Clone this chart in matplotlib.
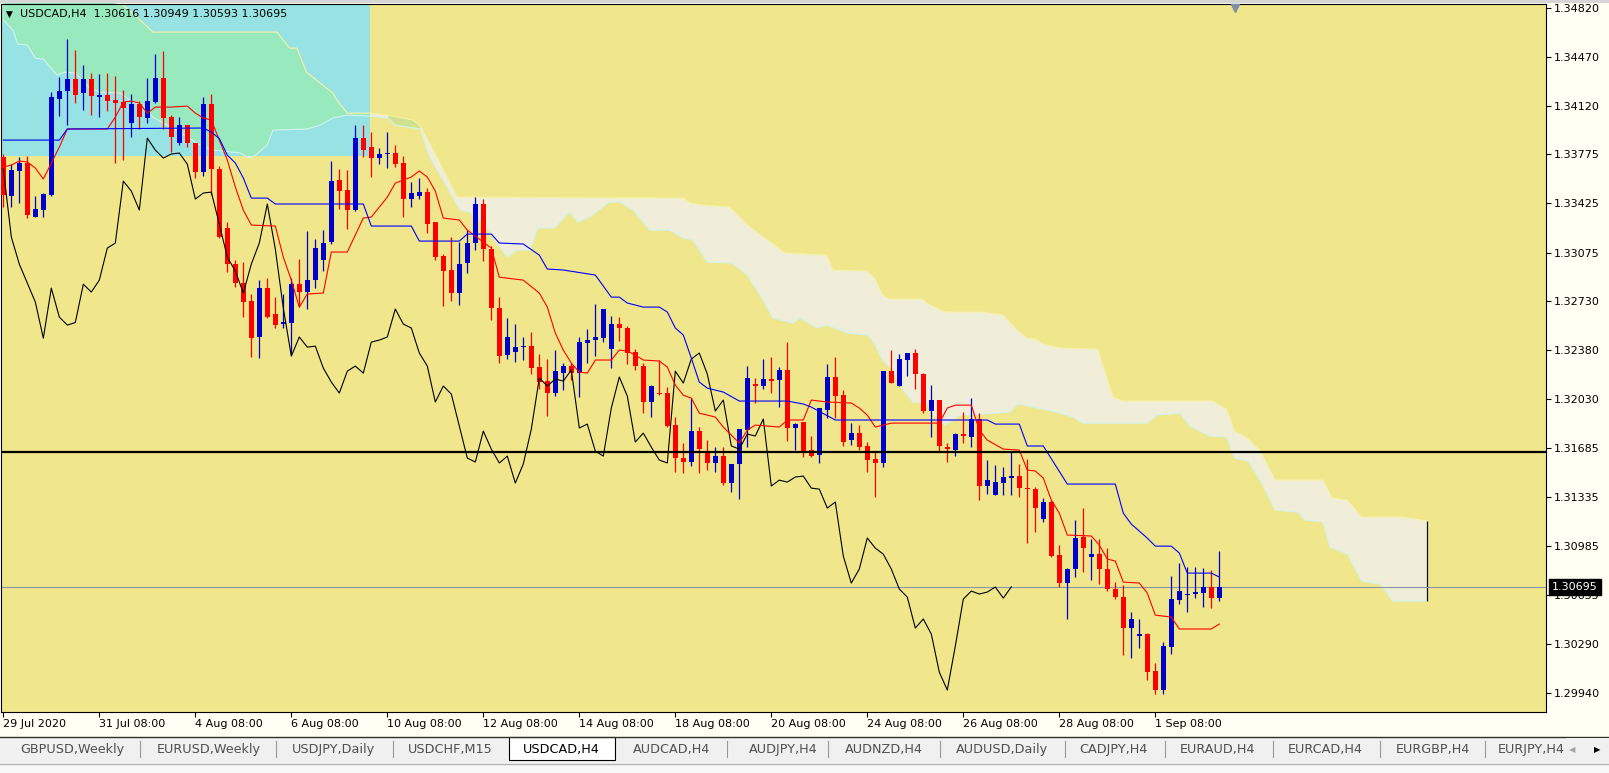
import numpy as np
import matplotlib
matplotlib.use("Agg")
import matplotlib.pyplot as plt
from matplotlib.patches import Polygon, Rectangle
from matplotlib.lines import Line2D
from matplotlib.transforms import Affine2D, blended_transform_factory

W, H = 1609, 773

# USDCAD H4 candles, oldest first (bar 0 = 29 Jul 08:00)
opens = [1.33755, 1.33478, 1.33656, 1.33712, 1.33328, 1.33378, 1.33485, 1.34168, 1.34225, 1.34311,
         1.34211, 1.34311, 1.34186, 1.34197, 1.34161, 1.34147, 1.33997, 1.34133, 1.34033, 1.34147,
         1.34318, 1.3404, 1.33855, 1.33983, 1.33855, 1.33648, 1.34133, 1.3367, 1.3325, 1.32993,
         1.32858, 1.3273, 1.32474, 1.32822, 1.32637, 1.3257, 1.32573, 1.3285, 1.32794, 1.32879,
         1.33022, 1.3315, 1.33591, 1.3352, 1.33378, 1.3389, 1.33826, 1.33748, 1.33777, 1.33784,
         1.33712, 1.33456, 1.33478, 1.33506, 1.33292, 1.3305, 1.32951, 1.32787, 1.33, 1.33143,
         1.33421, 1.331, 1.3268, 1.32345, 1.32367, 1.32402, 1.32409, 1.3226, 1.3216, 1.32075,
         1.32217, 1.32267, 1.32217, 1.32431, 1.32452, 1.32466, 1.32388, 1.32566, 1.32538, 1.32367,
         1.32267, 1.32011, 1.32075, 1.32075, 1.31847, 1.31612, 1.31584, 1.31804, 1.31655, 1.31577,
         1.31626, 1.31434, 1.3157, 1.31811, 1.32139, 1.32125, 1.32175, 1.32167, 1.32239, 1.31826,
         1.31868, 1.31669, 1.31633, 1.31954, 1.32189, 1.3206, 1.3174, 1.3179, 1.31698, 1.31605,
         1.31577, 1.32231, 1.32125, 1.3231, 1.3236, 1.3221, 1.31947, 1.32025, 1.3169, 1.31669,
         1.31783, 1.31762, 1.3189, 1.31413, 1.31349, 1.31434, 1.3147, 1.31484, 1.31398, 1.31391,
         1.31178, 1.31299, 1.30921, 1.30722, 1.30822, 1.3105, 1.30907, 1.30928, 1.30822, 1.3068,
         1.30622, 1.30402, 1.30345, 1.30359, 1.30095, 1.2996, 1.30266, 1.30601, 1.30637, 1.30644,
         1.30651, 1.30694, 1.30616]
highs = [1.33777, 1.33705, 1.33755, 1.33762, 1.33478, 1.33499, 1.34218, 1.34325, 1.34595, 1.34517,
         1.3441, 1.34353, 1.34346, 1.34353, 1.34332, 1.34232, 1.34204, 1.34154, 1.34318, 1.34489,
         1.3451, 1.34054, 1.3404, 1.33983, 1.33855, 1.34182, 1.34204, 1.33691, 1.33292, 1.33022,
         1.33008, 1.3278, 1.32879, 1.32894, 1.32758, 1.3278, 1.32894, 1.33029, 1.33228, 1.33171,
         1.33235, 1.33727, 1.3367, 1.33663, 1.33983, 1.33983, 1.33933, 1.33819, 1.33933, 1.33841,
         1.33762, 1.33577, 1.33606, 1.33534, 1.33292, 1.33065, 1.33186, 1.3315, 1.33235, 1.3347,
         1.33456, 1.33122, 1.32758, 1.32609, 1.32566, 1.32474, 1.32509, 1.32352, 1.32317, 1.32381,
         1.32288, 1.32288, 1.32474, 1.32531, 1.32709, 1.32673, 1.32623, 1.32616, 1.32552, 1.32388,
         1.32288, 1.32132, 1.3231, 1.32118, 1.31904, 1.31719, 1.32039, 1.31833, 1.3174, 1.3169,
         1.3169, 1.3157, 1.31818, 1.32267, 1.32182, 1.32317, 1.32331, 1.3226, 1.32438, 1.31861,
         1.31868, 1.31769, 1.31968, 1.32281, 1.32331, 1.32096, 1.31861, 1.31847, 1.31726, 1.31655,
         1.32231, 1.32381, 1.32352, 1.3236, 1.32388, 1.32217, 1.32132, 1.32025, 1.31719, 1.3179,
         1.31939, 1.32039, 1.31932, 1.31598, 1.31562, 1.31548, 1.31655, 1.3157, 1.31605, 1.31406,
         1.31327, 1.31313, 1.30993, 1.30829, 1.31171, 1.31256, 1.31035, 1.31035, 1.30971, 1.30729,
         1.30708, 1.30516, 1.30466, 1.30366, 1.30152, 1.30302, 1.30772, 1.30864, 1.30836, 1.30836,
         1.30829, 1.30815, 1.30949]
lows = [1.33399, 1.33399, 1.33428, 1.33321, 1.33325, 1.33328, 1.33478, 1.34047, 1.33983, 1.3414,
        1.3409, 1.34054, 1.3404, 1.34083, 1.33712, 1.33734, 1.33898, 1.33955, 1.33997, 1.3414,
        1.33955, 1.33791, 1.33841, 1.33826, 1.33606, 1.3362, 1.33485, 1.33178, 1.32936, 1.3283,
        1.32616, 1.32331, 1.32324, 1.32609, 1.32538, 1.32538, 1.32345, 1.32687, 1.32673, 1.32822,
        1.32944, 1.33136, 1.33385, 1.33243, 1.33371, 1.33755, 1.33613, 1.33705, 1.33677, 1.33684,
        1.33328, 1.33399, 1.33456, 1.33214, 1.33022, 1.32694, 1.3273, 1.32701, 1.32929, 1.33093,
        1.33015, 1.32595, 1.32288, 1.32317, 1.32296, 1.3231, 1.3221, 1.32103, 1.31911, 1.32053,
        1.32096, 1.32167, 1.32046, 1.32288, 1.32338, 1.32438, 1.32253, 1.32445, 1.32281, 1.32239,
        1.31932, 1.31904, 1.3206, 1.31833, 1.31512, 1.31505, 1.31555, 1.31505, 1.31527, 1.31512,
        1.3142, 1.3137, 1.3132, 1.3169, 1.32004, 1.32103, 1.32075, 1.31975, 1.31733, 1.31669,
        1.31619, 1.31619, 1.31577, 1.31897, 1.31897, 1.31698, 1.31705, 1.31669, 1.31512, 1.31334,
        1.31548, 1.32146, 1.32125, 1.32196, 1.32103, 1.31932, 1.31762, 1.31662, 1.31584, 1.31626,
        1.31719, 1.3169, 1.31313, 1.31356, 1.31349, 1.31349, 1.31349, 1.31334, 1.31007, 1.31085,
        1.31157, 1.30907, 1.30694, 1.30466, 1.30765, 1.308, 1.30743, 1.30715, 1.30665, 1.30608,
        1.30209, 1.30188, 1.30259, 1.30031, 1.29932, 1.29932, 1.30216, 1.30573, 1.30516, 1.30615,
        1.30551, 1.30544, 1.30593]
closes = [1.33485, 1.33663, 1.33712, 1.33342, 1.33385, 1.33492, 1.34182, 1.34225, 1.34311, 1.34197,
          1.34311, 1.34189, 1.34193, 1.34154, 1.3414, 1.34104, 1.34133, 1.3404, 1.34154, 1.34318,
          1.34033, 1.33898, 1.33983, 1.33855, 1.33648, 1.34133, 1.3367, 1.33186, 1.32993, 1.32858,
          1.32723, 1.32466, 1.32822, 1.32616, 1.32559, 1.32577, 1.3285, 1.32794, 1.32879, 1.33107,
          1.33143, 1.33584, 1.33513, 1.33378, 1.3389, 1.33805, 1.33748, 1.33777, 1.33784, 1.33705,
          1.33456, 1.33499, 1.33506, 1.33278, 1.33043, 1.32944, 1.32787, 1.32993, 1.33143, 1.33421,
          1.331, 1.3268, 1.32338, 1.32474, 1.32402, 1.32409, 1.32253, 1.32153, 1.32075, 1.32231,
          1.32267, 1.32217, 1.32438, 1.32452, 1.32474, 1.32673, 1.32566, 1.32538, 1.3236, 1.32267,
          1.32011, 1.32125, 1.32068, 1.3184, 1.31612, 1.31584, 1.31804, 1.31676, 1.31577, 1.31626,
          1.31434, 1.3157, 1.31818, 1.32182, 1.32125, 1.32175, 1.3216, 1.32239, 1.31826, 1.31854,
          1.31662, 1.31626, 1.31968, 1.32189, 1.32053, 1.31726, 1.3179, 1.3169, 1.31598, 1.31577,
          1.32231, 1.32146, 1.32317, 1.3236, 1.3221, 1.31947, 1.32025, 1.31698, 1.31676, 1.31783,
          1.31769, 1.3189, 1.31413, 1.31455, 1.31441, 1.31477, 1.31484, 1.31398, 1.31391, 1.31256,
          1.31299, 1.30914, 1.30722, 1.30822, 1.31043, 1.30971, 1.30928, 1.30822, 1.3068, 1.30622,
          1.30402, 1.30466, 1.30359, 1.30088, 1.2996, 1.30273, 1.30608, 1.30665, 1.30644, 1.30658,
          1.30694, 1.30615, 1.30695]

# Ichimoku lines (bar index, price)
tenkan_bars = [0, 1, 2, 3, 4, 5, 6, 7, 8, 13, 14, 15, 16, 17, 18, 19, 21, 23, 24, 25,
               26, 27, 28, 29, 30, 31, 34, 35, 36, 37, 38, 40, 41, 43, 44, 45, 46, 47, 48, 49,
               51, 52, 53, 54, 55, 57, 58, 61, 62, 65, 67, 68, 69, 70, 71, 72, 73, 74, 76, 77,
               78, 79, 80, 82, 83, 84, 85, 86, 87, 89, 90, 92, 93, 94, 97, 98, 100, 101, 103, 106,
               107, 108, 109, 111, 117, 118, 119, 121, 122, 123, 125, 127, 128, 129, 130, 131, 132, 133, 136, 137,
               138, 139, 140, 142, 143, 144, 146, 147, 151, 152]
tenkan_vals = [1.33684, 1.33698, 1.33727, 1.3372, 1.33677, 1.33599, 1.33712, 1.33826, 1.33955, 1.33955,
               1.3404, 1.34147, 1.34154, 1.3414, 1.34068, 1.34111, 1.34111, 1.34118, 1.34068, 1.34033,
               1.34019, 1.33876, 1.33734, 1.33542, 1.33378, 1.33271, 1.33264, 1.33043, 1.32879, 1.32687,
               1.3278, 1.32787, 1.33079, 1.33079, 1.332, 1.33321, 1.33328, 1.33399, 1.3347, 1.3357,
               1.33613, 1.33656, 1.33613, 1.33513, 1.33321, 1.33307, 1.33235, 1.33107, 1.329, 1.32879,
               1.32787, 1.32687, 1.32502, 1.32381, 1.32288, 1.32224, 1.32217, 1.3231, 1.3231, 1.32381,
               1.32374, 1.32345, 1.3231, 1.32303, 1.3226, 1.32132, 1.3206, 1.32039, 1.31932, 1.31904,
               1.31833, 1.31719, 1.31811, 1.31847, 1.31833, 1.31883, 1.31883, 1.32025, 1.32011, 1.32004,
               1.31968, 1.31918, 1.31833, 1.31861, 1.31861, 1.31968, 1.31989, 1.31989, 1.31811, 1.3174,
               1.31676, 1.31669, 1.31527, 1.3152, 1.3147, 1.31313, 1.3122, 1.31064, 1.31057, 1.30993,
               1.30893, 1.30879, 1.30729, 1.30722, 1.30651, 1.30494, 1.3048, 1.30395, 1.30395, 1.3043]
kijun_bars = [0, 7, 8, 25, 26, 27, 28, 29, 30, 31, 33, 34, 45, 46, 51, 52, 57, 58, 61, 62,
              65, 67, 68, 70, 74, 76, 77, 78, 80, 82, 83, 84, 85, 86, 87, 88, 90, 92, 98, 100,
              101, 104, 123, 124, 127, 128, 130, 133, 139, 140, 141, 143, 144, 146, 147, 148, 151, 152]
kijun_vals = [1.33876, 1.33876, 1.33955, 1.33962, 1.33933, 1.33887, 1.33769, 1.33713, 1.33606, 1.33463,
              1.33463, 1.33421, 1.33421, 1.33264, 1.33264, 1.33157, 1.33157, 1.33207, 1.33207, 1.33143,
              1.33136, 1.33057, 1.32958, 1.32951, 1.32915, 1.32758, 1.32758, 1.32716, 1.32687, 1.32687,
              1.32652, 1.32538, 1.32488, 1.32324, 1.32153, 1.3211, 1.32082, 1.32018, 1.32018, 1.31997,
              1.31975, 1.31883, 1.31883, 1.31854, 1.31854, 1.31698, 1.31698, 1.31427, 1.31427, 1.3122,
              1.31142, 1.31042, 1.30985, 1.30985, 1.30936, 1.30793, 1.30793, 1.30765]
chikou_shift = 26

# Kumo edges (bar, price)
cloud_top_bars = [0, 15.0, 17.1, 18.7, 34.2, 35.8, 36.7, 37.9, 39.6, 41.2, 41.7, 43.0, 45.8, 48.1,
                  51.2, 52.1, 53.7, 55.0, 56.7, 85.0, 85.8, 87.5, 90.8, 93.3, 97.7, 102.9, 103.7,
                  107.9, 108.9, 109.9, 110.8, 114.8, 115.8, 117.7, 122.3, 125.0, 126.7, 128.0,
                  129.0, 130.0, 132.1, 136.8, 138.7, 139.9, 151.1, 152.9, 153.9, 155.5, 157.1,
                  159.0, 165.0, 166.1, 168.0, 169.8, 174.9, 178]
cloud_top_vals = [1.35015, 1.34837, 1.34731, 1.34645, 1.34645, 1.34531, 1.34531, 1.3436, 1.34282,
                  1.34211, 1.34161, 1.34068, 1.34068, 1.34054, 1.34019, 1.33976, 1.33805, 1.33663,
                  1.3347, 1.33463, 1.33428, 1.33413, 1.33399, 1.33257, 1.33072, 1.33057, 1.32951,
                  1.32944, 1.32894, 1.32773, 1.32744, 1.32744, 1.32701, 1.32652, 1.32652, 1.3263,
                  1.32523, 1.32466, 1.32459, 1.32424, 1.32395, 1.32388, 1.32046, 1.32018, 1.32018,
                  1.31961, 1.31804, 1.31755, 1.31662, 1.31455, 1.31455, 1.31327, 1.31313, 1.31192,
                  1.31192, 1.31164]
cloud_bot_bars = [0, 1.2, 1.8, 3.0, 4.0, 5.0, 6.7, 7.7, 9.0, 10.8, 12.1, 14.6, 15.8, 17.1, 18.7,
                  20.0, 21.7, 23.0, 24.6, 26.2, 29.6, 30.8, 31.5, 33.0, 33.7, 38.0, 39.6, 41.2,
                  43.0, 45.8, 48.1, 49.0, 52.1, 53.3, 55.5, 57.1, 58.3, 60.0, 61.7, 63.0, 64.2,
                  65.8, 66.8, 68.9, 70.8, 71.8, 73.3, 75.8, 77.1, 78.7, 80.8, 83.3, 85.0, 86.2,
                  88.0, 91.1, 93.0, 94.6, 96.2, 98.7, 99.6, 101.7, 103.0, 105.5, 108.1, 109.0,
                  109.9, 111.2, 112.5, 113.7, 115.5, 116.7, 117.7, 119.6, 122.1, 125.8, 126.8,
                  128.7, 130.5, 132.1, 133.7, 134.9, 143.0, 144.2, 147.1, 148.3, 150.8, 152.9,
                  153.9, 155.6, 157.1, 159.0, 161.8, 162.7, 165.0, 165.8, 168.0, 169.8, 172.1,
                  173.7, 178]
cloud_bot_vals = [1.34731, 1.34659, 1.3456, 1.34553, 1.3446, 1.34453, 1.34339, 1.3436, 1.34353,
                  1.34246, 1.34218, 1.34211, 1.34161, 1.34125, 1.3404, 1.33997, 1.33947, 1.33898,
                  1.33841, 1.33805, 1.33784, 1.33748, 1.33769, 1.33841, 1.33947, 1.33955, 1.33983,
                  1.34033, 1.34054, 1.34047, 1.34033, 1.33983, 1.33955, 1.33755, 1.33542, 1.33378,
                  1.33364, 1.33285, 1.33143, 1.33043, 1.33093, 1.33093, 1.3325, 1.3325, 1.33364,
                  1.33292, 1.33328, 1.33435, 1.33435, 1.33378, 1.33235, 1.33235, 1.33178, 1.33164,
                  1.33008, 1.33, 1.32915, 1.32773, 1.32609, 1.32573, 1.32609, 1.32538, 1.32559,
                  1.32502, 1.32488, 1.32417, 1.3231, 1.32239, 1.32096, 1.32011, 1.32004, 1.31883,
                  1.31847, 1.31918, 1.31925, 1.31939, 1.31997, 1.31975, 1.31954, 1.31932, 1.31904,
                  1.31861, 1.31861, 1.31918, 1.31932, 1.3184, 1.31769, 1.31762, 1.31612, 1.31591,
                  1.31455, 1.31242, 1.31228, 1.31171, 1.31156, 1.30978, 1.30929, 1.30736, 1.30715,
                  1.30594, 1.30594]
# short stretch where the two spans swap
twist_bars = [48.1, 51.2, 52.1, 52.1, 49.0, 48.1]
twist_vals = [1.34054, 1.34019, 1.33976, 1.33955, 1.33983, 1.34033]

# chart objects
rect_bars = [-1, 45.85]
rect_prices = [1.33762, 1.3495]
hline_price = 1.31658
bid_price = closes[-1]

y_ticks = [1.34820, 1.34470, 1.34120, 1.33775, 1.33425, 1.33075, 1.32730, 1.32380,
           1.32030, 1.31685, 1.31335, 1.30985, 1.30635, 1.30290, 1.29940]
x_tick_bars = [0, 12, 24, 36, 48, 60, 72, 84, 96, 108, 120, 132, 144]
x_tick_labels = ["29 Jul 2020", "31 Jul 08:00", "4 Aug 08:00", "6 Aug 08:00", "10 Aug 08:00",
                 "12 Aug 08:00", "14 Aug 08:00", "18 Aug 08:00", "20 Aug 08:00", "24 Aug 08:00",
                 "26 Aug 08:00", "28 Aug 08:00", "1 Sep 08:00"]

tab_names = ["GBPUSD,Weekly", "EURUSD,Weekly", "USDJPY,Daily", "USDCHF,M15", "USDCAD,H4",
             "AUDCAD,H4", "AUDJPY,H4", "AUDNZD,H4", "AUDUSD,Daily", "CADJPY,H4",
             "EURAUD,H4", "EURCAD,H4", "EURGBP,H4", "EURJPY,H4"]
active_tab = "USDCAD,H4"
tab_centers = [72, 208.5, 333, 450, 561, 671.5, 783, 883.5, 1001.5, 1113.5, 1218, 1325.5, 1432.5, 1532]
tab_seps = [140, 276.5, 393, 727, 828, 940, 1065, 1165, 1273, 1380, 1485]

BULL = "#0000CD"
BEAR = "#FF0000"

fig = plt.figure(figsize=(W / 100, H / 100), dpi=100, facecolor="#FFFFF4")
px = Affine2D().scale(1.0 / W, -1.0 / H).translate(0, 1) + fig.transFigure

ax = fig.add_axes([1 / W, 1 - 712 / H, 1545 / W, 708 / H])
ax.set_facecolor("#F0E68C")
ax.set_xlim(-0.29, 192.84)
ax.set_ylim(1.29804, 1.34845)

# rectangle object behind the price
rect = Rectangle((rect_bars[0], rect_prices[0]), rect_bars[1] - rect_bars[0],
                 rect_prices[1] - rect_prices[0], fc="#97E2E2", ec="none", zorder=1)
ax.add_patch(rect)

# kumo
cloud_xy = list(zip(cloud_top_bars, cloud_top_vals)) + \
    list(zip(cloud_bot_bars[::-1], cloud_bot_vals[::-1]))
ax.add_patch(Polygon(cloud_xy, closed=True, fc="#F0EDD8", ec="none", zorder=1.2))
green = Polygon(cloud_xy, closed=True, fc="#98E9BE", ec="none", zorder=1.3)
ax.add_patch(green)
green.set_clip_path(rect)
ax.add_patch(Polygon(list(zip(twist_bars, twist_vals)), closed=True,
                     fc="#CFE18E", ec="none", zorder=1.4))
ax.plot(cloud_top_bars, cloud_top_vals, color="#F8F2A8", lw=0.8, zorder=1.5)
ax.plot(cloud_bot_bars, cloud_bot_vals, color="#D2F4EE", lw=0.8, zorder=1.5)
ax.vlines(cloud_top_bars[-1], cloud_bot_vals[-1], cloud_top_vals[-1],
          color="#101010", lw=0.9, zorder=1.6)

ax.axhline(bid_price, color="#8A96A8", lw=0.8, zorder=1.7)

# candles
o = np.array(opens)
h = np.array(highs)
l = np.array(lows)
c = np.array(closes)
x = np.arange(len(c))
cols = np.where(c >= o, BULL, BEAR)
ax.vlines(x, l, h, colors=cols, lw=0.9, zorder=3)
body_h = np.maximum(np.abs(c - o), 0.00009)
ax.bar(x, body_h, bottom=np.minimum(o, c), width=0.62, color=cols, lw=0, zorder=3)

# ichimoku lines
ax.plot(np.arange(len(c) - chikou_shift), c[chikou_shift:], color="black", lw=0.8, zorder=4)
ax.plot(tenkan_bars, tenkan_vals, color="#FF0000", lw=0.8, zorder=4)
ax.plot(kijun_bars, kijun_vals, color="#0000FF", lw=0.8, zorder=4)

ax.axhline(hline_price, color="black", lw=1.6, zorder=5)

# chart shift marker
tr = blended_transform_factory(ax.transData, ax.transAxes)
ax.plot([len(c) + 1], [0.995], marker="v", ms=6, color="#7F8FA6", transform=tr,
        clip_on=False, zorder=6)

# axes
for s in ax.spines.values():
    s.set_color("black")
    s.set_linewidth(0.8)
ax.set_xticks(x_tick_bars, x_tick_labels)
for lbl in ax.get_xticklabels():
    lbl.set_ha("left")
ax.set_yticks(y_ticks, [f"{v:.5f}" for v in y_ticks])
ax.tick_params(axis="x", direction="out", length=3.5, width=0.8, pad=1.5, labelsize=8)
ax.tick_params(axis="y", direction="out", length=3.5, width=0.8, pad=2, labelsize=8,
               left=False, right=True, labelleft=False, labelright=True)

ax.annotate(f"{bid_price:.5f}", xy=(1, bid_price), xycoords=("axes fraction", "data"),
            xytext=(6, 0), textcoords="offset pixels", ha="left", va="center",
            fontsize=8, color="white", annotation_clip=False, zorder=7,
            bbox=dict(boxstyle="square,pad=0.3", fc="black", ec="black"))

# header
fig.text(6, 14, "\u25bc", transform=px, fontsize=6.5, va="center", ha="left")
header = f"USDCAD,H4  {opens[-1]:.5f} {highs[-1]:.5f} {lows[-1]:.5f} {closes[-1]:.5f}"
fig.text(20, 14, header, transform=px, fontsize=8, va="center", ha="left")

# window chrome
fig.add_artist(Rectangle((0, 0), W, 3, transform=px, fc="#D6D6D6", ec="none"))
fig.add_artist(Rectangle((0, 737), W, 26, transform=px, fc="#F0F0F0", ec="none"))
fig.add_artist(Line2D([0, W], [737, 737], transform=px, color="#303030", lw=1))
fig.add_artist(Rectangle((0, 763), W, 10, transform=px, fc="#F8F8F8", ec="none"))
fig.add_artist(Line2D([0, W], [763.5, 763.5], transform=px, color="#B4B4B4", lw=1))
i_act = tab_names.index(active_tab)
fig.add_artist(Rectangle((509, 737), 106, 23, transform=px, fc="white", ec="black", lw=0.8))
for sx in tab_seps:
    fig.add_artist(Line2D([sx, sx], [741, 757], transform=px, color="#9A9A9A", lw=0.8))
for i, name in enumerate(tab_names):
    if i == len(tab_names) - 1:
        fig.text(1498, 750, name, transform=px, fontsize=9.2, va="center", ha="left",
                 color="#505050")
    else:
        fig.text(tab_centers[i], 750, name, transform=px, fontsize=9.2, va="center",
                 ha="center", color="black" if i == i_act else "#505050")
fig.add_artist(Rectangle((1566, 738), W - 1566, 24, transform=px, fc="#F0F0F0", ec="none",
                         zorder=4))
fig.text(1572, 750, "\u25c0", transform=px, fontsize=6, va="center", ha="center",
         color="#A8A8A8", zorder=5)
fig.text(1597, 750, "\u25b6", transform=px, fontsize=6, va="center", ha="center",
         color="black", zorder=5)

fig.savefig("out.png", dpi=100, facecolor=fig.get_facecolor())
